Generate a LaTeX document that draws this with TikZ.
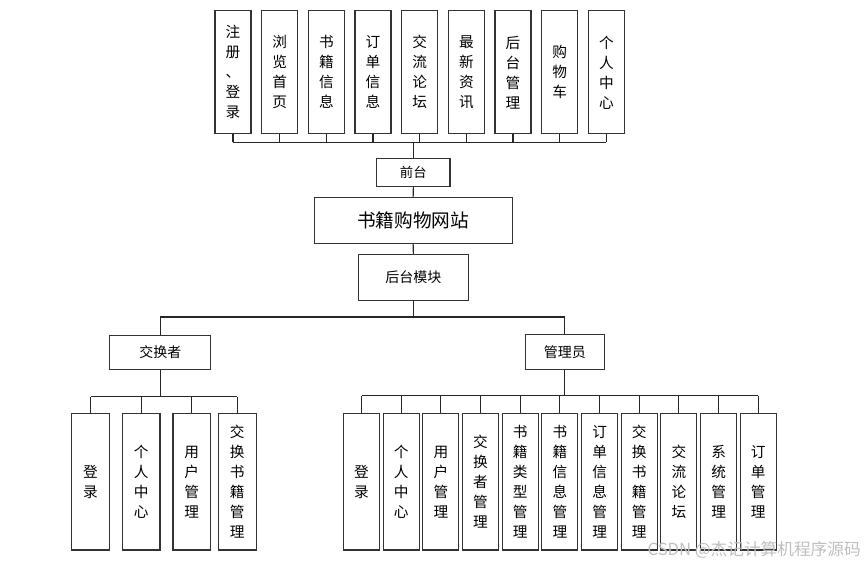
\documentclass[tikz,border=0pt]{standalone}
\usepackage{fontspec}
\newfontfamily\cjk{Noto Sans CJK SC}
\makeatletter
% texte vertical : un caractere par ligne
\def\vt#1{\vt@a#1\@nil}
\def\vt@a#1#2\@nil{#1\ifx\relax#2\relax\expandafter\@gobble\else\expandafter\@firstofone\fi{\\\vt@a#2\@nil}}
\makeatother
\tikzset{
  boite/.style={draw=black!80, line width=0.8pt, fill=white, inner sep=0pt,
    align=center, font=\cjk\fontsize{11}{15}\selectfont},
  haut/.style={boite, minimum width=27pt, minimum height=92.5pt},
  bas/.style={boite, minimum width=27pt, minimum height=102.5pt},
  trait/.style={draw=black!85, line width=0.8pt}
}
\begin{document}
\begin{tikzpicture}[x=0.75pt,y=-0.75pt]
\useasboundingbox (0,0) rectangle (865,566);

% Modules du front
\foreach \i/\txt in {
1/注册、登录,
2/浏览首页,
3/书籍信息,
4/订单信息,
5/交流论坛,
6/最新资讯,
7/后台管理,
8/购物车,
9/个人中心}
{
    \node[haut] (h\i) at ({233+46.67*(\i-1)},72.3) {\expandafter\vt\expandafter{\txt}};
}

% Noeuds centraux
\node[boite, minimum width=55pt, minimum height=21.3pt,
  font=\cjk\fontsize{10}{12}\selectfont] (front) at (413.3,172.5) {前台};
\node[boite, minimum width=148.7pt, minimum height=34.5pt,
  font=\cjk\fontsize{14}{16}\selectfont] (site) at (413.2,220.3) {书籍购物网站};
\node[boite, minimum width=82.5pt, minimum height=34.3pt,
  font=\cjk\fontsize{10.5}{12}\selectfont] (back) at (413.3,277.2) {后台模块};
\node[boite, minimum width=75.75pt, minimum height=25.7pt,
  font=\cjk\fontsize{10.5}{12}\selectfont] (exch) at (160.3,352.2) {交换者};
\node[boite, minimum width=59.5pt, minimum height=26pt,
  font=\cjk\fontsize{10.5}{12}\selectfont] (admin) at (564.8,352) {管理员};

% Bus
\coordinate (busH) at (413.3,142.3);
\coordinate (busM) at (413.3,317);
\coordinate (busG) at (160.3,396.7);
\coordinate (busD) at (564.8,395.7);

\foreach \i in {1,...,9}
    \draw[trait] (h\i.south) -- (h\i.south |- busH);
\draw[trait] (h1.south |- busH) -- (h9.south |- busH);
\draw[trait] (front.north) -- (busH);
\draw[trait] (front.south) -- (site.north);
\draw[trait] (site.south) -- (back.north);
\draw[trait] (back.south) -- (busM);
\draw[trait] (exch.north |- busM) -- (admin.north |- busM);
\draw[trait] (exch.north |- busM) -- (exch.north);
\draw[trait] (admin.north |- busM) -- (admin.north);

% Branche exchange
\foreach \i/\x/\txt in {
1/90.5/登录,
2/141.2/个人中心,
3/191.8/用户管理,
4/237.3/交换书籍管理}
{
    \node[bas, minimum width=28.2pt] (g\i) at (\x,481.7) {\expandafter\vt\expandafter{\txt}};
    \draw[trait] (g\i.north) -- (g\i.north |- busG);
}
\draw[trait] (g1.north |- busG) -- (g4.north |- busG);
\draw[trait] (exch.south) -- (busG);

% Branche admin
\foreach \i/\txt in {
1/登录,
2/个人中心,
3/用户管理,
4/交换者管理,
5/书籍类型管理,
6/书籍信息管理,
7/订单信息管理,
8/交换书籍管理,
9/交流论坛,
10/系统管理,
11/订单管理}
{
    \node[bas] (d\i) at ({361.5+39.68*(\i-1)},481.7) {\expandafter\vt\expandafter{\txt}};
    \draw[trait] (d\i.north) -- (d\i.north |- busD);
}
\draw[trait] (d1.north |- busD) -- (d11.north |- busD);
\draw[trait] (admin.south) -- (busD);

% Filigrane
\node[anchor=east, text=black!25, inner sep=0pt,
  font=\cjk\fontsize{12.5}{14}\selectfont] (wm) at (861,549.5) {CSDN @杰记计算机程序源码};

\end{tikzpicture}
\end{document}
